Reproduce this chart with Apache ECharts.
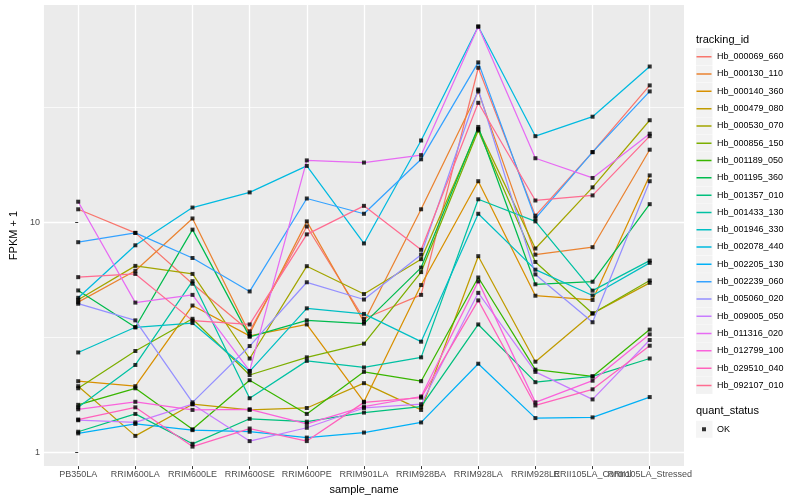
<!DOCTYPE html>
<html><head><meta charset="utf-8">
<script src="https://cdn.jsdelivr.net/npm/echarts@6/dist/echarts.min.js"></script>
<style>html,body{margin:0;padding:0;background:#fff}#c{width:800px;height:500px}</style>
</head><body><div id="c"></div>
<script>
const categories = ['PB350LA','RRIM600LA','RRIM600LE','RRIM600SE','RRIM600PE','RRIM901LA','RRIM928BA','RRIM928LA','RRIM928LE','RRII105LA_Control','RRII105LA_Stressed'];
const yMajorTicks = [1, 10];
const yMinorTicks = [3.1623, 31.623];

const Hb_000069_660 = [11.4, 9.0, 5.41, 3.36, 9.6, 3.81, 4.84, 47.0, 10.7, 20.2, 39.4];
const Hb_000130_110 = [4.50, 6.16, 10.4, 3.28, 10.1, 3.69, 11.4, 37.1, 7.24, 7.8, 20.7];
const Hb_000140_360 = [2.04, 1.94, 4.35, 3.21, 3.60, 1.66, 5.34, 15.1, 4.80, 4.60, 16.0];
const Hb_000479_080 = [1.94, 1.18, 1.62, 1.53, 1.56, 2.00, 1.53, 7.13, 2.48, 4.02, 5.46];
const Hb_000530_070 = [4.61, 6.47, 5.97, 2.56, 6.45, 4.88, 6.92, 25.5, 7.7, 14.2, 27.8];
const Hb_000856_150 = [1.90, 2.76, 3.81, 2.17, 2.59, 2.97, 6.08, 25.1, 6.73, 4.02, 5.59];
const Hb_001189_050 = [1.61, 1.90, 1.26, 2.06, 1.47, 2.24, 2.04, 5.76, 2.29, 2.14, 3.42];
const Hb_001195_360 = [5.06, 3.50, 9.3, 3.18, 3.75, 3.63, 6.36, 26.0, 5.38, 5.52, 12.0];
const Hb_001357_010 = [1.23, 1.47, 1.09, 1.40, 1.36, 1.49, 1.58, 3.60, 2.02, 2.14, 2.56];
const Hb_001433_130 = [1.57, 2.40, 5.55, 1.72, 2.50, 2.34, 2.59, 12.6, 10.1, 5.05, 6.82];
const Hb_001946_330 = [2.72, 3.50, 3.65, 2.25, 4.23, 4.0, 3.03, 10.9, 6.23, 4.81, 6.67];
const Hb_002078_440 = [4.70, 7.95, 11.6, 13.5, 17.6, 8.1, 22.7, 71.0, 23.7, 28.8, 47.6];
const Hb_002205_130 = [1.21, 1.33, 1.25, 1.23, 1.16, 1.22, 1.35, 2.43, 1.41, 1.42, 1.74];
const Hb_002239_060 = [8.2, 9.0, 7.0, 5.01, 12.7, 10.9, 18.8, 49.6, 10.4, 20.2, 37.1];
const Hb_005060_020 = [4.43, 3.75, 1.65, 2.90, 5.49, 4.62, 7.24, 37.8, 5.94, 3.68, 15.1];
const Hb_009005_050 = [1.38, 1.35, 1.62, 1.12, 1.28, 1.56, 1.62, 4.94, 2.24, 1.70, 3.08];
const Hb_011316_020 = [12.3, 4.48, 4.84, 2.26, 18.6, 18.2, 19.6, 71.0, 19.0, 15.6, 24.3];
const Hb_012799_100 = [1.54, 1.66, 1.53, 1.54, 1.33, 1.58, 1.75, 5.54, 1.65, 2.05, 3.26];
const Hb_029510_040 = [1.39, 1.57, 1.06, 1.27, 1.12, 1.65, 1.73, 4.58, 1.60, 1.88, 2.91];
const Hb_092107_010 = [5.78, 5.97, 3.74, 3.60, 8.87, 11.8, 7.6, 33.1, 12.45, 13.1, 23.7];

const seriesNames = ['Hb_000069_660','Hb_000130_110','Hb_000140_360','Hb_000479_080','Hb_000530_070','Hb_000856_150','Hb_001189_050','Hb_001195_360','Hb_001357_010','Hb_001433_130','Hb_001946_330','Hb_002078_440','Hb_002205_130','Hb_002239_060','Hb_005060_020','Hb_009005_050','Hb_011316_020','Hb_012799_100','Hb_029510_040','Hb_092107_010'];
const seriesValues = [Hb_000069_660,Hb_000130_110,Hb_000140_360,Hb_000479_080,Hb_000530_070,Hb_000856_150,Hb_001189_050,Hb_001195_360,Hb_001357_010,Hb_001433_130,Hb_001946_330,Hb_002078_440,Hb_002205_130,Hb_002239_060,Hb_005060_020,Hb_009005_050,Hb_011316_020,Hb_012799_100,Hb_029510_040,Hb_092107_010];
const seriesColors = ['#F8766D','#EA8331','#D89000','#C09B00','#A3A500','#7CAE00','#39B600','#00BB4E','#00BF7D','#00C1A3','#00BFC4','#00BAE0','#00B0F6','#35A2FF','#9590FF','#C77CFF','#E76BF3','#FA62DB','#FF62BC','#FF6C91'];
const statusName = 'OK';

const FONT = '"Liberation Sans", Arial, Helvetica, sans-serif';
const catIdx = categories.map((c, i) => i);
const evenIdx = catIdx.filter(i => i % 2 === 0);
const oddIdx = catIdx.filter(i => i % 2 === 1);

const lineSeries = seriesNames.map((name, k) => ({
  type: 'line', name: name, color: seriesColors[k],
  data: seriesValues[k].map((v, i) => [i, v]),
  symbol: 'none', showSymbol: false, silent: true, z: 2,
  lineStyle: { width: 1.25, color: seriesColors[k] }
}));
const pointData = [];
seriesValues.forEach(arr => arr.forEach((v, i) => pointData.push([i, v])));

const lineIcon = 'path://M0,0L0.01,0L0,0.01ZM0.5,7.8L15.5,7.8L15.5,9.3L0.5,9.3ZM16,17L15.99,17L16,16.99Z';
const pointIcon = 'path://M0,0L0.01,0L0,0.01ZM6,6.5L10,6.5L10,10.5L6,10.5ZM16,17L15.99,17L16,16.99Z';
const legendText = { fontFamily: FONT, fontSize: 9, color: '#000' };
const hiddenText = { fontFamily: FONT, fontSize: 9, color: 'rgba(0,0,0,0)' };

const xCommon = {
  type: 'value', min: -0.6, max: 10.6, position: 'bottom',
  axisLine: { show: false },
  axisTick: { show: true, length: 3, lineStyle: { color: '#333', width: 1 } },
  axisLabel: { formatter: v => categories[Math.round(v)], fontFamily: FONT, fontSize: 9, color: '#4D4D4D', margin: 4, hideOverlap: false, showMinLabel: true, showMaxLabel: true }
};

const chart = echarts.init(document.getElementById('c'));
chart.setOption({
  animation: false,
  textStyle: { fontFamily: FONT },
  title: [
    { text: 'tracking_id', left: 696, top: 34, padding: 0, textStyle: { fontFamily: FONT, fontSize: 11, fontWeight: 'normal', color: '#000' } },
    { text: 'quant_status', left: 696, top: 405, padding: 0, textStyle: { fontFamily: FONT, fontSize: 11, fontWeight: 'normal', color: '#000' } }
  ],
  grid: { left: 35, right: 116, top: 5, bottom: 32, show: true, backgroundColor: '#EBEBEB', borderWidth: 0 },
  xAxis: [
    Object.assign({}, xCommon, {
      name: 'sample_name', nameLocation: 'middle', nameGap: 14,
      nameTextStyle: { fontFamily: FONT, fontSize: 11, color: '#000' },
      axisTick: Object.assign({}, xCommon.axisTick, { customValues: catIdx }),
      axisLabel: Object.assign({}, xCommon.axisLabel, { customValues: evenIdx }),
      splitLine: { show: true, lineStyle: { color: '#FFFFFF', width: 1.3 } }
    }),
    Object.assign({}, xCommon, {
      axisTick: { show: false, customValues: oddIdx },
      axisLabel: Object.assign({}, xCommon.axisLabel, { customValues: oddIdx }),
      splitLine: { show: false }
    })
  ],
  yAxis: [
    {
      type: 'log', logBase: 10, min: 0.872, max: 88.1,
      name: 'FPKM + 1', nameLocation: 'middle', nameGap: 20, nameRotate: 90,
      nameTextStyle: { fontFamily: FONT, fontSize: 11, color: '#000' },
      axisLine: { show: false },
      axisTick: { show: true, customValues: yMajorTicks, length: 3, lineStyle: { color: '#333', width: 1 } },
      axisLabel: { customValues: yMajorTicks, formatter: v => String(Math.round(v)), fontFamily: FONT, fontSize: 9, color: '#4D4D4D', margin: 4, showMinLabel: true, showMaxLabel: true },
      splitLine: { show: true, lineStyle: { color: '#FFFFFF', width: 1.3 } }
    },
    {
      type: 'log', logBase: 10, min: 0.872, max: 88.1, position: 'left',
      axisLine: { show: false },
      axisTick: { show: false, customValues: yMinorTicks },
      axisLabel: { show: false, customValues: yMinorTicks },
      splitLine: { show: true, lineStyle: { color: '#FFFFFF', width: 0.7 } }
    }
  ],
  legend: [
    {
      orient: 'vertical', left: 696, top: 48.2, padding: 0, itemGap: 0.3, z: 1,
      itemWidth: 16.5, itemHeight: 17, icon: 'rect', selectedMode: false,
      itemStyle: { color: '#F2F2F2', borderWidth: 0 },
      data: seriesNames, textStyle: hiddenText
    },
    {
      orient: 'vertical', left: 696, top: 48.2, padding: 0, itemGap: 0.3, z: 5,
      itemWidth: 16, itemHeight: 17, icon: lineIcon, selectedMode: false,
      data: seriesNames, textStyle: legendText
    },
    {
      orient: 'vertical', left: 696, top: 420.8, padding: 0, z: 1,
      itemWidth: 16.5, itemHeight: 17, icon: 'rect', selectedMode: false,
      itemStyle: { color: '#F2F2F2', borderWidth: 0 },
      data: [statusName], textStyle: hiddenText
    },
    {
      orient: 'vertical', left: 696, top: 420.8, padding: 0, z: 5,
      itemWidth: 16, itemHeight: 17, icon: pointIcon, selectedMode: false,
      data: [statusName], textStyle: legendText
    }
  ],
  series: lineSeries.concat([{
    type: 'scatter', name: statusName, data: pointData, silent: true, z: 3,
    symbol: 'rect', symbolSize: 4, itemStyle: { color: '#000' }
  }])
});
</script></body></html>
